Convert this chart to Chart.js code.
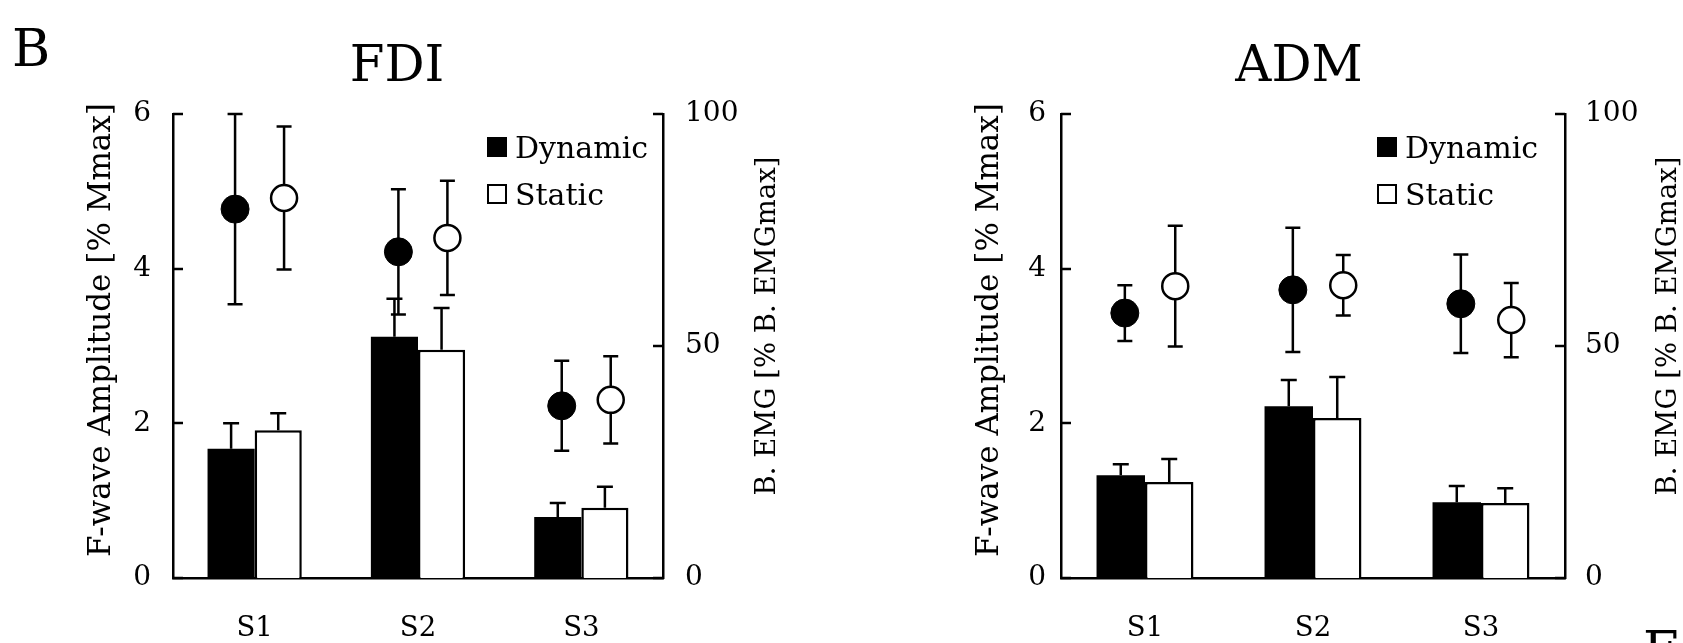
<!DOCTYPE html>
<html>
<head>
<meta charset="utf-8">
<script src="https://cdn.jsdelivr.net/npm/chart.js@4.4.0/dist/chart.umd.min.js"></script>
<style>
html, body { margin: 0; padding: 0; background: #fff; }
body { width: 1683px; height: 643px; position: relative; overflow: hidden; }
.panel { position: absolute; top: 0; height: 643px; }
.overlay { pointer-events: none; }
</style>
</head>
<body>
<div class="panel" style="left:0px;width:840px"><canvas id="fdiBars"></canvas></div>
<div class="panel overlay" style="left:0px;width:840px"><canvas id="fdiEmg"></canvas></div>
<div class="panel" style="left:930px;width:753px"><canvas id="admBars"></canvas></div>
<div class="panel overlay" style="left:930px;width:753px"><canvas id="admEmg"></canvas></div>
<script>
var sessions = ["S1", "S2", "S3"];
var conditions = ["Dynamic", "Static"];
var fwaveTicks = [0, 2, 4, 6];
var emgTicks = [0, 50, 100];
var fwaveTitle = "F-wave Amplitude [% Mmax]";
var emgTitle = "B. EMG [% B. EMGmax]";

// FDI : bars = F-wave amplitude (left axis), circles = background EMG (right axis)
var fdiFwaveDynamic = [1.67, 3.12, 0.79];
var fdiFwaveDynamicSD = [0.33, 0.49, 0.18];
var fdiFwaveStatic = [1.91, 2.95, 0.91];
var fdiFwaveStaticSD = [0.22, 0.54, 0.27];
var fdiEmgDynamic = [79.5, 70.3, 37.1];
var fdiEmgDynamicSD = [20.5, 13.5, 9.7];
var fdiEmgStatic = [81.9, 73.3, 38.4];
var fdiEmgStaticSD = [15.4, 12.3, 9.4];

// ADM
var admFwaveDynamic = [1.33, 2.22, 0.98];
var admFwaveDynamicSD = [0.14, 0.34, 0.21];
var admFwaveStatic = [1.24, 2.07, 0.97];
var admFwaveStaticSD = [0.30, 0.53, 0.19];
var admEmgDynamic = [57.1, 62.1, 59.1];
var admEmgDynamicSD = [6.0, 13.4, 10.6];
var admEmgStatic = [62.9, 63.1, 55.6];
var admEmgStaticSD = [13.0, 6.5, 8.0];

var serif = '"DejaVu Serif", serif';
var dodge = [-0.12, 0.18]; // circles sit a bit right of the bar pair

// error bars: bars only upward, circles both ways (drawn under the marks)
const errorBars = {
    id: 'errorBars',
    beforeDatasetsDraw(chart) {
        const ctx = chart.ctx;
        ctx.save();
        ctx.strokeStyle = '#000';
        ctx.lineWidth = 2.5;
        chart.data.datasets.forEach(function (ds, di) {
            if (!ds.errors) return;
            const meta = chart.getDatasetMeta(di);
            const ys = chart.scales[meta.yAxisID];
            const isBar = meta.type === 'bar';
            meta.data.forEach(function (el, i) {
                const v = isBar ? ds.data[i] : ds.data[i].y;
                const hi = ys.getPixelForValue(v + ds.errors[i]);
                const lo = isBar ? el.y : ys.getPixelForValue(v - ds.errors[i]);
                const cap = isBar ? 8 : 7.5;
                ctx.beginPath();
                ctx.moveTo(el.x, lo); ctx.lineTo(el.x, hi);
                ctx.moveTo(el.x - cap, hi); ctx.lineTo(el.x + cap, hi);
                if (!isBar) { ctx.moveTo(el.x - cap, lo); ctx.lineTo(el.x + cap, lo); }
                ctx.stroke();
            });
        });
        ctx.restore();
    }
};

// inward ticks, rotated axis titles, legend box and panel letter
const panelDecor = {
    id: 'panelDecor',
    afterDraw(chart, args, o) {
        const ctx = chart.ctx;
        const a = chart.chartArea;
        ctx.save();
        ctx.strokeStyle = '#000';
        ctx.fillStyle = '#000';
        ctx.lineWidth = 2.5;
        // ticks pointing into the plot
        ['y', 'y2'].forEach(function (id) {
            const s = chart.scales[id];
            s.ticks.forEach(function (t) {
                const py = Math.round(s.getPixelForValue(t.value));
                ctx.beginPath();
                if (id === 'y') { ctx.moveTo(a.left, py); ctx.lineTo(a.left + 10, py); }
                else { ctx.moveTo(a.right, py); ctx.lineTo(a.right - 10, py); }
                ctx.stroke();
            });
        });
        // axis titles, both read bottom to top
        ctx.textAlign = 'center';
        ctx.textBaseline = 'middle';
        ctx.font = '31px ' + serif;
        ctx.save();
        ctx.translate(a.left - 71, a.top + 216);
        ctx.rotate(-Math.PI / 2);
        ctx.fillText(o.leftTitle, 0, 0);
        ctx.restore();
        ctx.font = '27.5px ' + serif;
        ctx.save();
        ctx.translate(a.right + o.rightTitleGap, a.top + 212);
        ctx.rotate(-Math.PI / 2);
        ctx.fillText(o.rightTitle, 0, 0);
        ctx.restore();
        // legend from the bar datasets
        ctx.textAlign = 'left';
        ctx.textBaseline = 'alphabetic';
        ctx.font = '30px ' + serif;
        chart.data.datasets.forEach(function (d, k) {
            const x = a.right - o.legendFromRight;
            const cy = a.top + 33 + k * 47;
            ctx.fillStyle = d.backgroundColor;
            ctx.fillRect(x, cy - 10, 20, 20);
            ctx.lineWidth = 2;
            ctx.strokeRect(x + 1, cy - 9, 18, 18);
            ctx.fillStyle = '#000';
            ctx.fillText(d.label, x + 28, cy + 11);
        });
        // panel letter
        ctx.font = '52px ' + serif;
        ctx.fillText(o.letter, o.letterX, o.letterY);
        ctx.restore();
    }
};

function makePanel(barId, emgId, title, d, geo) {
    const axisLine = { display: true, color: '#000', width: 2.5 };
    const noGrid = { display: false, drawTicks: false, tickLength: 0 };

    // bars, axes, titles
    new Chart(barId, {
        type: 'bar',
        data: {
            labels: sessions,
            datasets: [
                { label: conditions[0], data: d.fwDyn, errors: d.fwDynSD,
                  backgroundColor: '#000', borderColor: '#000', borderWidth: 0 },
                { label: conditions[1], data: d.fwSta, errors: d.fwStaSD,
                  backgroundColor: '#fff', borderColor: '#000', borderWidth: 2.5 }
            ]
        },
        options: {
            responsive: true,
            maintainAspectRatio: false,
            animation: false,
            categoryPercentage: 0.577,
            barPercentage: 1.0,
            layout: { padding: { left: 0, right: geo.padRight, top: 0, bottom: 0 } },
            plugins: {
                legend: { display: false },
                tooltip: { enabled: false },
                title: {
                    display: true, text: title, color: '#000',
                    font: { family: serif, size: 50, weight: 'normal', lineHeight: 1.2 },
                    padding: { top: 38, bottom: 16 }
                },
                panelDecor: { leftTitle: fwaveTitle, rightTitle: emgTitle, legendFromRight: geo.legendFromRight,
                              rightTitleGap: geo.rightTitleGap,
                              letter: geo.letter, letterX: geo.letterX, letterY: geo.letterY }
            },
            scales: {
                x: {
                    type: 'category', offset: true,
                    grid: noGrid, border: axisLine,
                    ticks: { color: '#000', font: { family: serif, size: 27.5 }, padding: 34, maxRotation: 0 },
                    afterFit: function (s) { s.height = 65; }
                },
                y: {
                    position: 'left', min: 0, max: 6,
                    grid: noGrid, border: axisLine,
                    ticks: { color: '#000', font: { family: serif, size: 28 }, padding: geo.leftTickPad },
                    afterBuildTicks: function (s) { s.ticks = fwaveTicks.map(function (v) { return { value: v }; }); },
                    afterFit: function (s) { s.width = geo.left; }
                },
                y2: {
                    position: 'right', min: 0, max: 100,
                    grid: noGrid, border: axisLine,
                    ticks: { color: '#000', font: { family: serif, size: 28 }, padding: geo.rightTickPad },
                    afterBuildTicks: function (s) { s.ticks = emgTicks.map(function (v) { return { value: v }; }); },
                    afterFit: function (s) { s.width = geo.width - geo.padRight - geo.right; }
                }
            }
        },
        plugins: [errorBars, panelDecor]
    });

    // B. EMG circles on a transparent chart laid over the same plot area
    new Chart(emgId, {
        type: 'scatter',
        data: {
            datasets: [
                { label: conditions[0], errors: d.emgDynSD,
                  data: d.emgDyn.map(function (v, i) { return { x: i + dodge[0], y: v }; }),
                  pointRadius: 14, pointBackgroundColor: '#000', pointBorderColor: '#000', pointBorderWidth: 1 },
                { label: conditions[1], errors: d.emgStaSD,
                  data: d.emgSta.map(function (v, i) { return { x: i + dodge[1], y: v }; }),
                  pointRadius: 13, pointBackgroundColor: '#fff', pointBorderColor: '#000', pointBorderWidth: 2.5 }
            ]
        },
        options: {
            responsive: true,
            maintainAspectRatio: false,
            animation: false,
            layout: { padding: { left: geo.left, right: geo.width - geo.right, top: 114, bottom: 65 } },
            plugins: { legend: { display: false }, tooltip: { enabled: false } },
            scales: {
                x: { type: 'linear', display: false, offset: false, min: -0.5, max: sessions.length - 0.5 },
                y: { type: 'linear', display: false, min: 0, max: 100 }
            }
        },
        plugins: [errorBars]
    });
}

makePanel('fdiBars', 'fdiEmg', 'FDI', {
    fwDyn: fdiFwaveDynamic, fwDynSD: fdiFwaveDynamicSD, fwSta: fdiFwaveStatic, fwStaSD: fdiFwaveStaticSD,
    emgDyn: fdiEmgDynamic, emgDynSD: fdiEmgDynamicSD, emgSta: fdiEmgStatic, emgStaSD: fdiEmgStaticSD
}, { width: 840, left: 173, right: 663, padRight: 46, leftTickPad: 22, rightTickPad: 22, legendFromRight: 176,
     rightTitleGap: 105, letter: 'B', letterX: 12, letterY: 66 });

makePanel('admBars', 'admEmg', 'ADM', {
    fwDyn: admFwaveDynamic, fwDynSD: admFwaveDynamicSD, fwSta: admFwaveStatic, fwStaSD: admFwaveStaticSD,
    emgDyn: admEmgDynamic, emgDynSD: admEmgDynamicSD, emgSta: admEmgStatic, emgStaSD: admEmgStaticSD
}, { width: 753, left: 131, right: 635, padRight: 15, leftTickPad: 15, rightTickPad: 20, legendFromRight: 188,
     rightTitleGap: 104, letter: 'E', letterX: 713, letterY: 668 });
</script>
</body>
</html>
